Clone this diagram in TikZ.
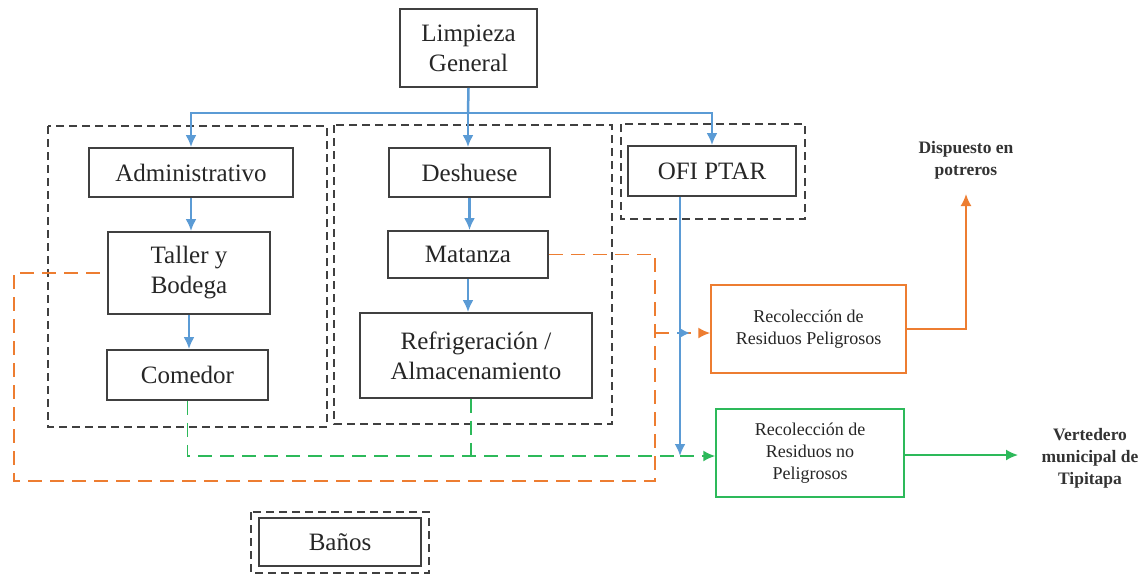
\documentclass[tikz,border=0pt]{standalone}
\usepackage{fontspec}
\setmainfont{Liberation Serif}
\newfontfamily\diagfont{Liberation Serif}
\usetikzlibrary{arrows.meta}
\definecolor{fblue}{HTML}{5B9BD5}
\definecolor{forange}{HTML}{ED7D31}
\definecolor{fgreen}{HTML}{2DB95A}
\definecolor{fgray}{HTML}{404040}
\tikzset{
  box/.style={draw=fgray, line width=1.8pt, fill=white, inner sep=0pt, align=center,
    font=\diagfont\fontsize{25}{30}\selectfont, text=black!85},
  smallbox/.style={draw, line width=1.5pt, fill=white, inner sep=0pt, align=center,
    font=\diagfont\fontsize{18}{22}\selectfont, text=black!85},
  endlabel/.style={align=center, font=\diagfont\bfseries\fontsize{17.5}{22}\selectfont, text=black!80},
  area/.style={draw=fgray, line width=2pt, dash pattern=on 8pt off 5pt},
  flow/.style={draw=fblue, line width=2.5pt},
  arrowtip/.style={-{Latex[length=12pt,width=11pt]}},
  odash/.style={draw=forange, line width=1.8pt, dash pattern=on 14pt off 8pt},
  gdash/.style={draw=fgreen, line width=1.8pt, dash pattern=on 14pt off 8pt},
}
\begin{document}
\begin{tikzpicture}[x=1pt, y=-1pt]
\useasboundingbox (0,0) rectangle (1147,574);

% grouping areas
\draw[area] (48,126) rectangle (327,427);
\draw[area] (334,125) rectangle (612,424);
\draw[area] (621,124) rectangle (805,219);
\draw[area] (251,512) rectangle (429,573);

% process boxes
\node[box, minimum width=137, minimum height=78] (lg) at (468.5,48) {Limpieza\\General};
\node[box, minimum width=204, minimum height=49] (adm) at (191,172.5) {Administrativo};
\node[box, minimum width=162, minimum height=82] (tal) at (189,273) {Taller y\\Bodega};
\node[box, minimum width=161, minimum height=50] (com) at (187.5,375) {Comedor};
\node[box, minimum width=161, minimum height=49] (des) at (469.5,172.5) {Deshuese};
\node[box, minimum width=160, minimum height=47] (mat) at (468,254.5) {Matanza};
\node[box, minimum width=232, minimum height=85] (ref) at (476,355.5) {Refrigeración /\\Almacenamiento};
\node[box, minimum width=168, minimum height=50] (ofi) at (712,171) {OFI PTAR};
\node[box, minimum width=162, minimum height=48] (ban) at (340,542) {Baños};

% collection boxes
\node[smallbox, draw=forange, minimum width=195, minimum height=88] (rp) at (808.5,329) {Recolección de\\Residuos Peligrosos};
\node[smallbox, draw=fgreen, minimum width=188, minimum height=88] (rn) at (810,453) {Recolección de\\Residuos no\\Peligrosos};

% destinations
\node[endlabel] (pot) at (966,160) {Dispuesto en\\potreros};
\node[endlabel] (ver) at (1090,458) {Vertedero\\municipal de\\Tipitapa};

% distribution from the general cleaning
\coordinate (bus) at (468,113);
\draw[flow] (lg.south) -- (bus);
\draw[flow, arrowtip] (bus) -| (adm.north);
\draw[flow, arrowtip] (bus) -- (bus |- des.north);
\draw[flow, arrowtip] (bus) -| (ofi.north);

% sequence inside each area
\draw[flow, arrowtip] (adm.south) -- (adm.south |- tal.north);
\draw[flow, arrowtip] (tal.south) -- (tal.south |- com.north);
\draw[flow, arrowtip] (des.south) -- (des.south |- mat.north);
\draw[flow, arrowtip] (mat.south) -- (mat.south |- ref.north);

% hazardous waste route
\draw[odash] (mat.east) -| (655,481) -- (14,481) |- (tal.west);
\draw[odash, arrowtip, forange] (655,333) -- (rp.west |- 655,333);

% non-hazardous waste route
\draw[gdash] (com.south) -- (com.south |- 0,456) -- (687,456);
\draw[gdash] ([xshift=-5pt]ref.south) -- ([xshift=-5pt]ref.south |- 0,456);
\draw[gdash, arrowtip, fgreen] (680,456) -- (rn.west |- 0,456);

% wastewater plant outlet
\draw[flow, arrowtip] ([xshift=-32pt]ofi.south) -- ([xshift=-32pt]ofi.south |- 0,456);
\draw[flow, -{Latex[length=10pt,width=10pt]}] (677,333) -- (690,333);

% final disposal
\draw[forange, line width=1.8pt, arrowtip] (rp.east) -| (966,194);
\draw[fgreen, line width=1.8pt, arrowtip] (rn.east |- 0,455) -- (1018,455);
\end{tikzpicture}
\end{document}
